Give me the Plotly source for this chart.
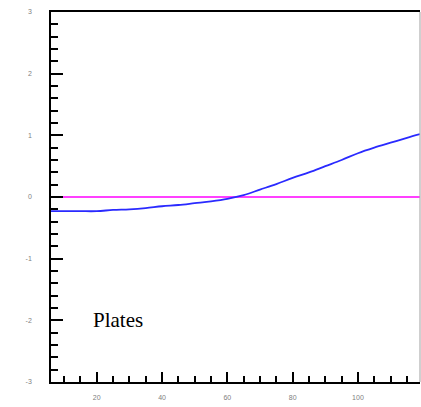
import plotly.graph_objects as go

# Response curve for plates
x_vals = [6, 10, 15, 20, 25, 30, 35, 40, 45, 50, 55, 60, 65, 70, 75, 80,
          85, 90, 95, 100, 105, 110, 115, 119]
y_vals = [-0.23, -0.23, -0.23, -0.23, -0.21, -0.20, -0.18, -0.15, -0.13, -0.10,
          -0.07, -0.03, 0.03, 0.12, 0.21, 0.31, 0.40, 0.50, 0.60, 0.71,
          0.80, 0.88, 0.96, 1.02]

# Reference level
ref_x = [6, 119]
ref_y = [0, 0]

x_ticks = [20, 40, 60, 80, 100]
y_ticks = [-3, -2, -1, 0, 1, 2, 3]

fig = go.Figure()
fig.add_trace(go.Scatter(x=ref_x, y=ref_y, mode="lines",
                         line=dict(color="#ff00ff", width=1.6),
                         showlegend=False, hoverinfo="skip"))
fig.add_trace(go.Scatter(x=x_vals, y=y_vals, mode="lines",
                         line=dict(color="#2a2aff", width=1.8, shape="spline"),
                         showlegend=False))

tick_font = dict(family="Liberation Sans, Arial, sans-serif", size=7, color="#808080")

fig.update_xaxes(
    range=[6, 119], tickvals=x_ticks, ticktext=[str(v) for v in x_ticks],
    ticks="inside", ticklen=10, tickwidth=1.5, tickcolor="black",
    minor=dict(dtick=5, tick0=0, ticks="inside", ticklen=6, tickwidth=1.5, tickcolor="black"),
    showline=True, linecolor="black", linewidth=1.6, mirror=True,
    showgrid=False, zeroline=False, tickfont=tick_font, ticklabelstandoff=8,
)
fig.update_yaxes(
    range=[-3, 3], tickvals=y_ticks, ticktext=[str(v) for v in y_ticks],
    ticks="inside", ticklen=12, tickwidth=1.5, tickcolor="black",
    minor=dict(dtick=0.2, tick0=0, ticks="inside", ticklen=7, tickwidth=1.5, tickcolor="black"),
    showline=True, linecolor="black", linewidth=1.6,
    showgrid=False, zeroline=False, tickfont=tick_font, ticklabelstandoff=16,
)

# light frame on the right side
fig.add_shape(type="line", xref="paper", yref="paper", x0=1, x1=1, y0=0, y1=1,
              line=dict(color="#b0b0b0", width=1.2))

fig.add_annotation(x=18.2, y=-2.0, text="Plates", showarrow=False,
                   xanchor="left", yanchor="middle",
                   font=dict(family="Liberation Serif, Times New Roman, serif",
                             size=21, color="black"))

fig.update_layout(
    width=421, height=407,
    margin=dict(l=51, r=1, t=12, b=25),
    plot_bgcolor="white", paper_bgcolor="white",
)

fig.write_html("out.html")
